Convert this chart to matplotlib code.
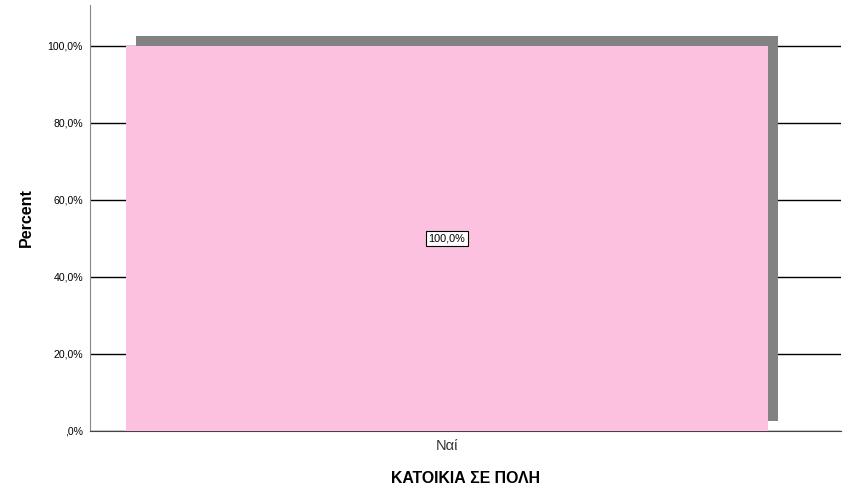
import matplotlib
matplotlib.use("Agg")
import matplotlib.pyplot as plt
import matplotlib.patheffects as pe
from matplotlib.ticker import FuncFormatter

# data
categories = ["Ναί"]
percents = [100.0]
y_ticks = [0, 20, 40, 60, 80, 100]

plt.rcParams['font.family'] = ['Liberation Sans', 'DejaVu Sans']


def pct_label(v, pos=None):
    s = f"{v:.1f}".replace(".", ",")
    if s.startswith("0,"):
        s = s[1:]
    return s + "%"


fig = plt.figure(figsize=(8.51, 5.01), dpi=100)
ax = fig.add_axes([90 / 851, 70 / 501, 751 / 851, 426 / 501])

ax.set_ylim(0, 110.6)
ax.set_xlim(-0.4754, 0.5246)
ax.set_yticks(y_ticks)
ax.yaxis.set_major_formatter(FuncFormatter(pct_label))
ax.grid(axis="y", color="black", linewidth=1.0, zorder=0)
ax.set_axisbelow(True)

bars = ax.bar(range(len(categories)), percents, width=0.855,
              color="#FDC1E0", edgecolor="none", zorder=3)
for b in bars:
    b.set_path_effects([pe.SimplePatchShadow(offset=(7.2, 7.2),
                                             shadow_rgbFace="#828282",
                                             alpha=1.0),
                        pe.Normal()])

for i, v in enumerate(percents):
    ax.text(i, v / 2, pct_label(v), ha="center", va="center", fontsize=7.8,
            zorder=5,
            bbox=dict(boxstyle="square,pad=0.25", facecolor="white",
                      edgecolor="black", linewidth=0.8))

ax.set_xticks(range(len(categories)))
ax.set_xticklabels(categories, fontsize=10.5, color="#333333")
ax.tick_params(axis="x", length=0, pad=6)
ax.tick_params(axis="y", length=0, pad=5, labelsize=7.6)

for side in ["top", "right"]:
    ax.spines[side].set_visible(False)
ax.spines["left"].set_color("#888888")
ax.spines["bottom"].set_color("#444444")

ax.set_ylabel("Percent", fontsize=11.5, fontweight="bold", labelpad=10)
ax.set_xlabel("ΚΑΤΟΙΚΙΑ ΣΕ ΠΟΛΗ", fontsize=11.4, fontweight="bold", labelpad=13)

fig.savefig("out.png", dpi=100)
